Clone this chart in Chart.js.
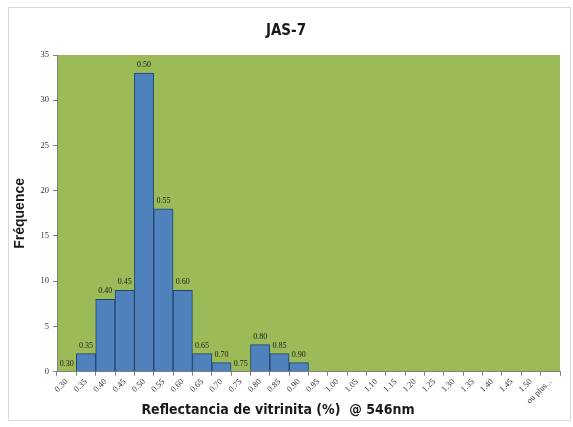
<!DOCTYPE html>
<html>
<head>
<meta charset="utf-8">
<script src="https://cdn.jsdelivr.net/npm/chart.js@4/dist/chart.umd.min.js"></script>
<style>
  html, body { margin: 0; padding: 0; background: #fff; }
  #wrap { position: relative; width: 573px; height: 427px; }
</style>
</head>
<body>
<div id="wrap"><canvas id="chart" width="573" height="427"></canvas></div>
<script>
'use strict'

const xlabels = ['0.30', '0.35', '0.40', '0.45', '0.50', '0.55', '0.60', '0.65', '0.70', '0.75',
    '0.80', '0.85', '0.90', '0.95', '1.00', '1.05', '1.10', '1.15', '1.20', '1.25', '1.30',
    '1.35', '1.40', '1.45', '1.50', 'ou plus...'];
const counts = [0, 2, 8, 9, 33, 18, 9, 2, 1, 0, 3, 2, 1, 0, 0, 0, 0, 0, 0, 0, 0, 0, 0, 0, 0, 0];
// labels printed above the bars (only up to 0.90 in the original)
const barLabels = ['0.30', '0.35', '0.40', '0.45', '0.50', '0.55', '0.60', '0.65', '0.70', '0.75',
    '0.80', '0.85', '0.90'];
const yticks = [0, 5, 10, 15, 20, 25, 30, 35];
const xTitle = 'Reflectancia de vitrinita (%)  @ 546nm';

const serif = '"Liberation Serif", "DejaVu Serif", serif';
const narrow = '"Liberation Sans Narrow", "DejaVu Sans Condensed", sans-serif';

const decor = {
    id: 'decor',
    beforeDraw(chart){
        const ctx = chart.ctx;
        const a = chart.chartArea;
        ctx.save();
        ctx.strokeStyle = '#d9d9d9';
        ctx.lineWidth = 1;
        ctx.strokeRect(8.5, 7.5, 562, 413);
        ctx.fillStyle = '#9bbb59';
        ctx.fillRect(a.left, a.top, a.right - a.left, a.bottom - a.top);
        ctx.restore();
    },
    afterDatasetsDraw(chart){
        const ctx = chart.ctx;
        const meta = chart.getDatasetMeta(0);
        ctx.save();
        ctx.fillStyle = '#1a1a1a';
        ctx.font = '8px ' + serif;
        ctx.textAlign = 'center';
        ctx.textBaseline = 'bottom';
        barLabels.forEach((t, i) => {
            const bar = meta.data[i];
            ctx.fillText(t, bar.x, bar.y - 4);
        });
        // x axis title, left of centre as in the original
        ctx.font = 'bold 14px ' + narrow;
        ctx.textBaseline = 'alphabetic';
        ctx.fillText(xTitle, 278, 414);
        ctx.restore();
    }
};

chartIt();

function chartIt(){
    const ctx = document.getElementById('chart').getContext('2d');

    new Chart(ctx, {
        type: 'bar',
        data: {
            labels: xlabels,
            datasets: [{
                data: counts,
                backgroundColor: '#4f81bd',
                borderColor: '#26456e',
                borderWidth: 1,
                barPercentage: 1,
                categoryPercentage: 1,
            }]
        },
        options: {
            responsive: false,
            animation: false,
            layout: { padding: { left: 12, right: 13, top: 10, bottom: 20 } },
            plugins: {
                legend: { display: false },
                tooltip: { enabled: false },
                title: {
                    display: true,
                    text: 'JAS-7',
                    color: '#1a1a1a',
                    font: { family: narrow, size: 15, weight: 'bold' },
                    padding: { top: 12, bottom: 15 }
                }
            },
            scales: {
                x: {
                    grid: { drawOnChartArea: false, tickLength: 4, color: '#808080', offset: true },
                    border: { color: '#808080' },
                    ticks: {
                        color: '#333',
                        font: { family: serif, size: 8.5 },
                        maxRotation: 45,
                        minRotation: 45,
                        autoSkip: false,
                        padding: 1
                    }
                },
                y: {
                    min: 0,
                    max: 35,
                    afterBuildTicks(axis){
                        axis.ticks = yticks.map(v => ({ value: v }));
                    },
                    afterFit(axis){ axis.width = 45; },
                    grid: { drawOnChartArea: false, tickLength: 4, color: '#808080' },
                    border: { color: '#808080' },
                    ticks: {
                        color: '#333',
                        font: { family: serif, size: 8.5 },
                        padding: 4
                    },
                    title: {
                        display: true,
                        text: 'Fréquence',
                        color: '#1a1a1a',
                        font: { family: 'Liberation Sans, Arial, sans-serif', size: 14, weight: 'bold' },
                        padding: 0
                    }
                }
            }
        },
        plugins: [decor]
    });
}
</script>
</body>
</html>
